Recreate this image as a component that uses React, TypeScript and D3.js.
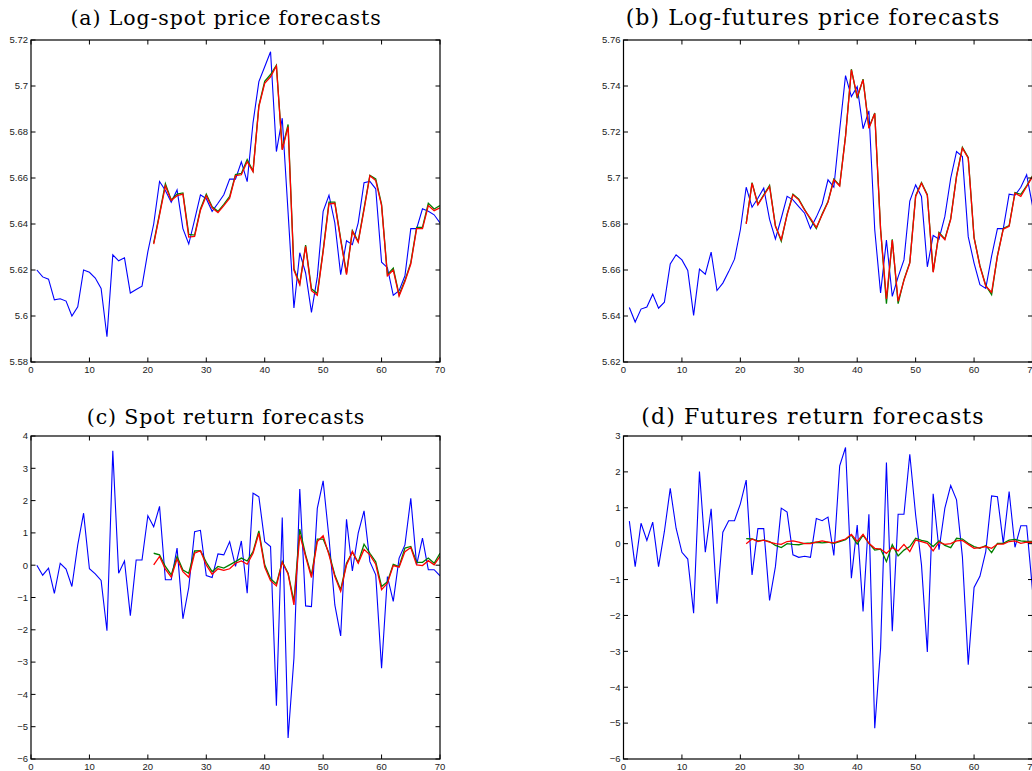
import React from "react";
import * as d3 from "d3";

// ---------- data ----------
const actualX = d3.range(1, 71);
const forecastX = d3.range(21, 71);

const spotLogActual = [
  5.620, 5.617, 5.616, 5.607, 5.6075, 5.6065, 5.600, 5.604, 5.620, 5.619,
  5.6165, 5.612, 5.591, 5.6266, 5.624, 5.6253, 5.610, 5.6115, 5.613, 5.628,
  5.640, 5.6585, 5.6546, 5.6495, 5.6548, 5.638, 5.6313, 5.6418, 5.6527, 5.651,
  5.6455, 5.649, 5.6527, 5.6595, 5.6595, 5.667, 5.6584, 5.684, 5.7019, 5.7084,
  5.7149, 5.6715, 5.686, 5.645, 5.6035, 5.6275, 5.6187, 5.6016, 5.617, 5.6455,
  5.6525, 5.6405, 5.618, 5.6327, 5.631, 5.6405, 5.658, 5.6585, 5.6553, 5.6234,
  5.621, 5.609, 5.611, 5.6175, 5.638, 5.638, 5.6466, 5.6455, 5.644, 5.6405,
];
const spotLogRed = [
  5.6313, 5.644, 5.6566, 5.6502, 5.6523, 5.653, 5.6343, 5.6346, 5.646, 5.6523,
  5.647, 5.645, 5.648, 5.6512, 5.661, 5.6614, 5.6671, 5.6628, 5.691, 5.7012,
  5.704, 5.7087, 5.6722, 5.6823, 5.620, 5.6136, 5.6303, 5.611, 5.609, 5.628,
  5.6488, 5.649, 5.633, 5.618, 5.6368, 5.632, 5.6462, 5.661, 5.6589, 5.648,
  5.6175, 5.620, 5.6087, 5.615, 5.6226, 5.638, 5.638, 5.648, 5.6458, 5.647,
];
const spotLogGreen = [
  5.6318, 5.6445, 5.6575, 5.6505, 5.653, 5.6535, 5.6355, 5.6352, 5.6465, 5.653,
  5.6475, 5.6455, 5.6485, 5.652, 5.6615, 5.662, 5.668, 5.663, 5.6915, 5.702,
  5.705, 5.709, 5.6725, 5.6833, 5.6205, 5.614, 5.6308, 5.6118, 5.6098, 5.6285,
  5.6495, 5.6495, 5.6335, 5.6185, 5.6372, 5.6325, 5.6468, 5.6612, 5.6596, 5.6485,
  5.618, 5.6208, 5.6092, 5.6155, 5.6232, 5.6385, 5.6385, 5.649, 5.6465, 5.648,
];

const futLogActual = [
  5.6437, 5.6374, 5.643, 5.6439, 5.6495, 5.6434, 5.646, 5.6626, 5.6666, 5.6644,
  5.6598, 5.6403, 5.6604, 5.6582, 5.6678, 5.6511, 5.6543, 5.6593, 5.6647, 5.6775,
  5.696, 5.6873, 5.6912, 5.6956, 5.682, 5.6735, 5.6825, 5.692, 5.6905, 5.6876,
  5.6847, 5.678, 5.683, 5.6887, 5.6992, 5.696, 5.721, 5.7445, 5.7354, 5.7397,
  5.7214, 5.7292, 5.6775, 5.650, 5.673, 5.6485, 5.657, 5.6644, 5.690, 5.697,
  5.692, 5.6614, 5.675, 5.6734, 5.6833, 5.6999, 5.7115, 5.7093, 5.6745, 5.663,
  5.6536, 5.652, 5.666, 5.678, 5.678, 5.693, 5.6925, 5.696, 5.7014, 5.688,
];
const futLogRed = [
  5.680, 5.6977, 5.6883, 5.6924, 5.6963, 5.679, 5.6732, 5.684, 5.6927, 5.6905,
  5.686, 5.6825, 5.6785, 5.684, 5.6895, 5.6992, 5.6965, 5.718, 5.747, 5.7355,
  5.7427, 5.7216, 5.728, 5.6775, 5.6474, 5.673, 5.6464, 5.6555, 5.663, 5.692,
  5.6977, 5.6924, 5.659, 5.676, 5.6732, 5.682, 5.7006, 5.713, 5.7086, 5.6739,
  5.6616, 5.653, 5.6503, 5.666, 5.6778, 5.679, 5.6934, 5.692, 5.6963, 5.7006,
];
const futLogGreen = [
  5.6803, 5.698, 5.6886, 5.6927, 5.6968, 5.6793, 5.6725, 5.6843, 5.693, 5.6908,
  5.6863, 5.682, 5.678, 5.6843, 5.6898, 5.6995, 5.6968, 5.7183, 5.7473, 5.7347,
  5.743, 5.7219, 5.7283, 5.6778, 5.6454, 5.6733, 5.6454, 5.6558, 5.6633, 5.6923,
  5.698, 5.6927, 5.6593, 5.6763, 5.6735, 5.6823, 5.7009, 5.7133, 5.7089, 5.6742,
  5.6619, 5.6533, 5.6493, 5.6663, 5.6781, 5.6793, 5.6937, 5.6929, 5.6966, 5.7009,
];

const spotRetActual = [
  0.00, -0.31, -0.09, -0.87, 0.06, -0.12, -0.66, 0.63, 1.61, -0.11,
  -0.27, -0.47, -2.03, 3.54, -0.25, 0.13, -1.56, 0.16, 0.16, 1.53,
  1.19, 1.82, -0.45, -0.45, 0.53, -1.66, -0.69, 1.04, 1.08, -0.32,
  -0.38, 0.35, 0.32, 0.73, -0.04, 0.75, -0.87, 2.23, 2.12, 0.73,
  0.58, -4.35, 1.48, -5.35, -2.88, 2.36, -1.26, -1.28, 1.76, 2.61,
  0.84, -1.23, -2.19, 1.42, -0.18, 0.99, 1.68, 0.11, -0.30, -3.19,
  -0.35, -1.12, 0.22, 0.63, 2.07, 0.01, 0.84, -0.14, -0.14, -0.33,
];
const spotRetRed = [
  0.01, 0.27, -0.12, -0.37, 0.19, -0.20, -0.37, 0.37, 0.45, 0.01,
  -0.28, -0.11, -0.16, -0.11, 0.06, 0.13, 0.03, 0.37, 0.99, -0.06,
  -0.48, -0.64, 0.09, -0.27, -1.23, 0.94, 0.27, -0.38, 0.73, 0.91,
  0.32, -0.35, -0.81, 0.01, 0.42, 0.06, 0.49, 0.32, 0.03, -0.76,
  -0.56, -0.01, -0.06, 0.42, 0.55, 0.01, -0.01, 0.14, 0.01, 0.27,
];
const spotRetGreen = [
  0.37, 0.32, -0.04, -0.30, 0.27, -0.15, -0.25, 0.44, 0.45, 0.09,
  -0.20, -0.04, -0.09, 0.01, 0.11, 0.22, 0.13, 0.42, 1.06, 0.01,
  -0.42, -0.58, 0.11, -0.25, -1.12, 1.12, 0.32, -0.32, 0.81, 0.81,
  0.37, -0.30, -0.76, 0.06, 0.40, 0.09, 0.65, 0.37, 0.11, -0.66,
  -0.51, 0.03, -0.04, 0.53, 0.58, 0.09, 0.09, 0.22, 0.06, 0.37,
];

const futRetActual = [
  0.63, -0.64, 0.57, 0.09, 0.60, -0.64, 0.34, 1.54, 0.43, -0.24,
  -0.43, -1.94, 2.01, -0.24, 0.97, -1.67, 0.32, 0.64, 0.64, 1.11,
  1.77, -0.87, 0.42, 0.42, -1.58, -0.64, 0.99, 0.88, -0.31, -0.38,
  -0.35, -0.38, 0.70, 0.64, 0.74, -0.33, 2.17, 2.68, -0.96, 0.52,
  -1.89, 0.82, -5.14, -2.91, 2.26, -2.44, 0.82, 0.82, 2.49, 0.80,
  -0.59, -3.02, 1.39, -0.17, 0.99, 1.62, 1.22, -0.36, -3.37, -1.22,
  -0.91, -0.22, 1.33, 1.31, 0.01, 1.45, -0.10, 0.50, 0.50, -1.29,
];
const futRetRed = [
  0.00, 0.13, 0.06, 0.10, 0.04, 0.00, -0.02, 0.06, 0.08, 0.04,
  0.00, 0.00, 0.04, 0.08, 0.04, 0.02, 0.08, 0.13, 0.26, 0.06,
  0.26, 0.01, -0.13, -0.15, -0.27, -0.11, -0.20, -0.02, -0.22, 0.10,
  0.06, 0.01, -0.20, 0.04, -0.02, 0.00, 0.08, 0.09, -0.02, -0.13,
  -0.11, -0.08, -0.13, -0.01, -0.01, 0.06, 0.08, 0.01, 0.04, 0.04,
];
const futRetGreen = [
  0.14, 0.13, 0.08, 0.10, 0.06, -0.05, -0.11, 0.00, -0.02, -0.03,
  0.01, 0.02, 0.04, 0.02, 0.04, 0.01, 0.06, 0.11, 0.24, -0.01,
  0.24, 0.01, -0.18, -0.15, -0.50, -0.03, -0.34, -0.18, -0.08, 0.15,
  0.09, 0.06, -0.08, 0.08, -0.05, -0.11, 0.15, 0.13, 0.01, -0.08,
  -0.13, -0.05, -0.25, 0.01, 0.01, 0.10, 0.12, 0.08, 0.06, 0.06,
];

const xTicks = [0, 10, 20, 30, 40, 50, 60, 70];
const spotLogTicks = [5.58, 5.6, 5.62, 5.64, 5.66, 5.68, 5.7, 5.72];
const spotLogTickLabels = ["5.58", "5.6", "5.62", "5.64", "5.66", "5.68", "5.7", "5.72"];
const futLogTicks = [5.62, 5.64, 5.66, 5.68, 5.7, 5.72, 5.74, 5.76];
const futLogTickLabels = ["5.62", "5.64", "5.66", "5.68", "5.7", "5.72", "5.74", "5.76"];
const spotRetTicks = [-6, -5, -4, -3, -2, -1, 0, 1, 2, 3, 4];
const futRetTicks = [-6, -5, -4, -3, -2, -1, 0, 1, 2, 3];

const titles = [
  "(a) Log-spot price forecasts",
  "(b) Log-futures price forecasts",
  "(c) Spot return forecasts",
  "(d) Futures return forecasts",
];

// ---------- rendering ----------
const fmtNeg = (v: number) => (v < 0 ? "\u2212" + Math.abs(v) : String(v));

type PanelProps = {
  title: string;
  left: number;
  right: number;
  top: number;
  bottom: number;
  titleX: number;
  titleY: number;
  titleSize: number;
  titleSpacing: number;
  yDomain: [number, number];
  yTicks: number[];
  yLabels: string[];
  actual: number[];
  red: number[];
  green: number[];
};

function Panel(p: PanelProps) {
  const x = d3.scaleLinear().domain([0, 70]).range([p.left, p.right]);
  const y = d3.scaleLinear().domain(p.yDomain).range([p.bottom, p.top]);
  const line = d3
    .line<[number, number]>()
    .x((d) => x(d[0]))
    .y((d) => y(d[1]));
  const act = actualX.map((xx, i) => [xx, p.actual[i]] as [number, number]);
  const gr = forecastX.map((xx, i) => [xx, p.green[i]] as [number, number]);
  const rd = forecastX.map((xx, i) => [xx, p.red[i]] as [number, number]);
  const tl = 4.5;
  const tickFont = { fontFamily: "Liberation Sans, Arial, sans-serif", fontSize: 9.5, fill: "#222" };
  const clipId = "clip" + Math.round(p.left) + "_" + p.top;
  return (
    <g>
      <text
        x={p.titleX}
        y={p.titleY}
        textAnchor="middle"
        style={{
          fontFamily: "DejaVu Serif, serif",
          fontSize: p.titleSize,
          letterSpacing: p.titleSpacing,
          fill: "#000",
        }}
      >
        {p.title}
      </text>
      <defs>
        <clipPath id={clipId}>
          <rect x={p.left} y={p.top} width={p.right - p.left} height={p.bottom - p.top} />
        </clipPath>
      </defs>
      <g clipPath={`url(#${clipId})`}>
        <path d={line(act) || ""} fill="none" stroke="#0000ff" strokeWidth={1.1} />
        <path d={line(gr) || ""} fill="none" stroke="#008000" strokeWidth={1.3} />
        <path d={line(rd) || ""} fill="none" stroke="#ff0000" strokeWidth={1.3} />
      </g>
      {xTicks.map((t) => (
        <g key={"x" + t}>
          <line x1={x(t)} x2={x(t)} y1={p.bottom} y2={p.bottom - tl} stroke="#000" strokeWidth={1} />
          <line x1={x(t)} x2={x(t)} y1={p.top} y2={p.top + tl} stroke="#000" strokeWidth={1} />
          <text x={x(t)} y={p.bottom + 11} textAnchor="middle" style={tickFont}>
            {t}
          </text>
        </g>
      ))}
      {p.yTicks.map((t, i) => (
        <g key={"y" + t}>
          <line x1={p.left} x2={p.left + tl} y1={y(t)} y2={y(t)} stroke="#000" strokeWidth={1} />
          <line x1={p.right} x2={p.right - tl} y1={y(t)} y2={y(t)} stroke="#000" strokeWidth={1} />
          <text x={p.left - 3} y={y(t) + 3.3} textAnchor="end" style={tickFont}>
            {p.yLabels[i]}
          </text>
        </g>
      ))}
      <rect
        x={p.left}
        y={p.top}
        width={p.right - p.left}
        height={p.bottom - p.top}
        fill="none"
        stroke="#000"
        strokeWidth={1.2}
      />
    </g>
  );
}

export default function App() {
  const L = [31, 440];
  const R = [623.5, 1032.5];
  const T1 = [40, 362];
  const T2 = [436, 759];
  return (
    <svg
      width={1032}
      height={771}
      style={{ position: "absolute", left: 0, top: 0, background: "#fff" }}
    >
      <rect x={0} y={0} width={1032} height={771} fill="#fff" />
      <Panel
        title={titles[0]}
        left={L[0]} right={L[1]} top={T1[0]} bottom={T1[1]}
        titleX={226} titleY={25} titleSize={20.5} titleSpacing={0.9}
        yDomain={[5.58, 5.72]} yTicks={spotLogTicks} yLabels={spotLogTickLabels}
        actual={spotLogActual} red={spotLogRed} green={spotLogGreen}
      />
      <Panel
        title={titles[1]}
        left={R[0]} right={R[1]} top={T1[0]} bottom={T1[1]}
        titleX={813} titleY={25} titleSize={22} titleSpacing={1.1}
        yDomain={[5.62, 5.76]} yTicks={futLogTicks} yLabels={futLogTickLabels}
        actual={futLogActual} red={futLogRed} green={futLogGreen}
      />
      <Panel
        title={titles[2]}
        left={L[0]} right={L[1]} top={T2[0]} bottom={T2[1]}
        titleX={226} titleY={424} titleSize={20.5} titleSpacing={0.9}
        yDomain={[-6, 4]} yTicks={spotRetTicks} yLabels={spotRetTicks.map(fmtNeg)}
        actual={spotRetActual} red={spotRetRed} green={spotRetGreen}
      />
      <Panel
        title={titles[3]}
        left={R[0]} right={R[1]} top={T2[0]} bottom={T2[1]}
        titleX={813} titleY={424} titleSize={22} titleSpacing={1.1}
        yDomain={[-6, 3]} yTicks={futRetTicks} yLabels={futRetTicks.map(fmtNeg)}
        actual={futRetActual} red={futRetRed} green={futRetGreen}
      />
    </svg>
  );
}
